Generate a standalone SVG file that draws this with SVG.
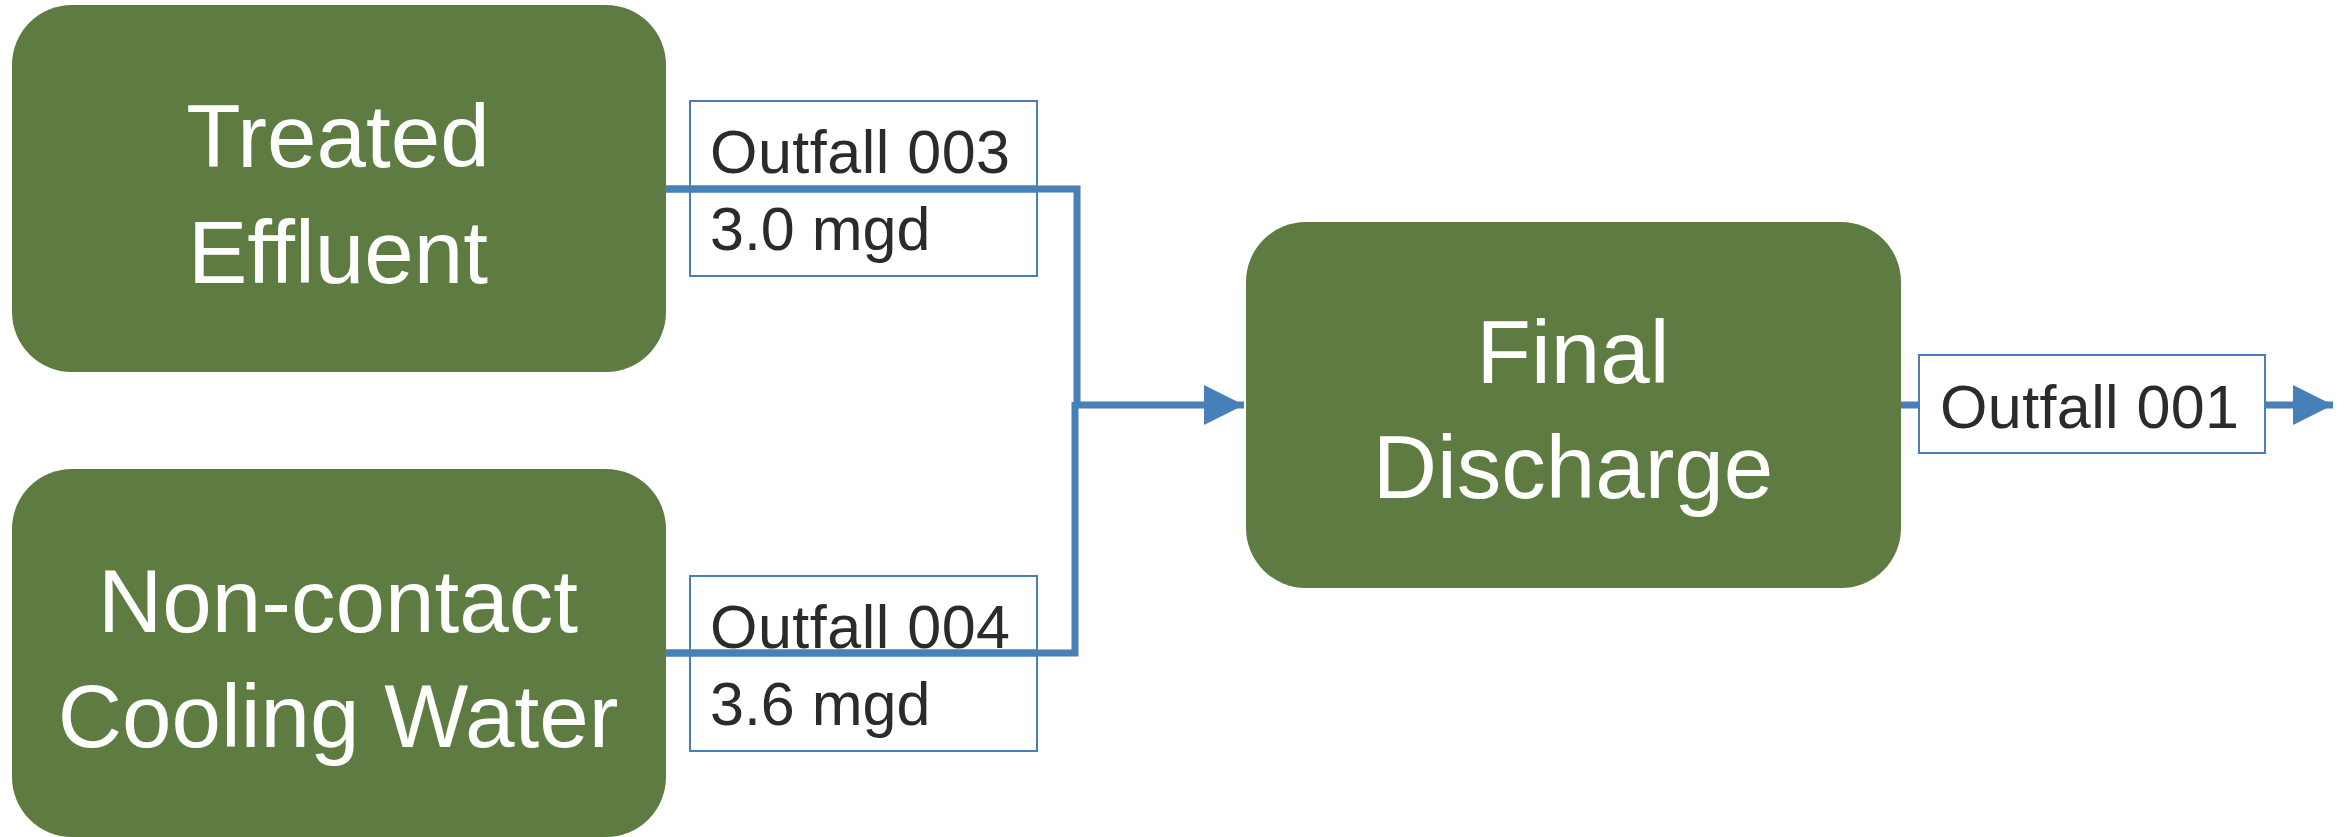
<svg xmlns="http://www.w3.org/2000/svg" width="2349" height="837" viewBox="0 0 2349 837">
<style>
.node{fill:#5E7C41;}
.nt{font-family:"Liberation Sans",Arial,sans-serif;font-size:89px;fill:#FFFFFF;text-anchor:middle;}
.lb{fill:#FFFFFF;stroke:#4A7EBB;stroke-width:2;}
.lt{font-family:"Liberation Sans",Arial,sans-serif;font-size:61px;fill:#2B2B2B;}
.conn{fill:none;stroke:#477FB8;stroke-width:7;}
</style>
<defs>
<marker id="arr" markerUnits="userSpaceOnUse" markerWidth="42" markerHeight="42" refX="40" refY="20" orient="auto">
<path d="M0,0 L40,20 L0,40 Z" fill="#477FB8"/>
</marker>
</defs>
<rect width="2349" height="837" fill="#FFFFFF"/>
<g id="connectors">
<path class="conn" d="M665,189 H1077 V405 H1244" marker-end="url(#arr)"/>
<path class="conn" d="M665,653 H1075 V402"/>
<path class="conn" d="M1901,405 H1919"/>
<path class="conn" d="M2265,405 H2333" marker-end="url(#arr)"/>
</g>
<g id="node-treated-effluent">
<rect class="node" x="12" y="5" width="654" height="367" rx="60" ry="60"/>
<text class="nt" x="338" y="167">Treated</text>
<text class="nt" x="338" y="283">Effluent</text>
</g>
<g id="node-cooling-water">
<rect class="node" x="12" y="469" width="654" height="368" rx="60" ry="60"/>
<text class="nt" x="338" y="632">Non-contact</text>
<text class="nt" x="338" y="747">Cooling Water</text>
</g>
<g id="node-final-discharge">
<rect class="node" x="1246" y="222" width="655" height="366" rx="60" ry="60"/>
<text class="nt" x="1573" y="383">Final</text>
<text class="nt" x="1573" y="498">Discharge</text>
</g>
<g id="label-outfall-003">
<rect class="lb" x="690" y="101" width="347" height="175" fill-opacity="0"/>
<path class="conn" d="M665,189 H1037"/>
<text class="lt" x="710" y="173" textLength="300" lengthAdjust="spacing">Outfall 003</text>
<text class="lt" x="710" y="250">3.0 mgd</text>
</g>
<g id="label-outfall-004">
<rect class="lb" x="690" y="576" width="347" height="175" fill-opacity="0"/>
<path class="conn" d="M665,653 H1037"/>
<text class="lt" x="710" y="648" textLength="300" lengthAdjust="spacing">Outfall 004</text>
<text class="lt" x="710" y="725">3.6 mgd</text>
</g>
<g id="label-outfall-001">
<rect class="lb" x="1919" y="355" width="346" height="98"/>
<text class="lt" x="1940" y="428" textLength="299" lengthAdjust="spacing">Outfall 001</text>
</g>
</svg>
